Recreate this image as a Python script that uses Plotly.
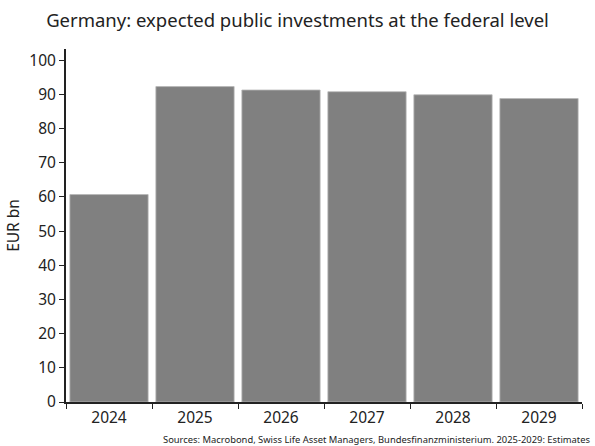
import plotly.graph_objects as go

years = ["2024", "2025", "2026", "2027", "2028", "2029"]
investments = [60.7, 92.3, 91.3, 90.8, 89.9, 88.8]
y_ticks = [0, 10, 20, 30, 40, 50, 60, 70, 80, 90, 100]

FONT = "Noto Sans"

fig = go.Figure(
    go.Bar(
        x=years,
        y=investments,
        marker=dict(color="#808080", line=dict(color="#b8b8b8", width=0.8)),
    )
)

fig.update_layout(
    width=595,
    height=446,
    margin=dict(l=66, r=13, t=49, b=44),
    paper_bgcolor="white",
    plot_bgcolor="white",
    bargap=0.09,
    showlegend=False,
    font=dict(family=FONT, color="#222222", size=15),
    title=dict(
        text="Germany: expected public investments at the federal level",
        x=0.5,
        xanchor="center",
        y=0.955,
        yanchor="middle",
        font=dict(family=FONT, size=18.5, color="#222222"),
    ),
    annotations=[
        dict(
            text="Sources: Macrobond, Swiss Life Asset Managers, Bundesfinanzministerium. 2025-2029: Estimates",
            xref="paper",
            yref="paper",
            x=1.022,
            y=-0.107,
            xanchor="right",
            yanchor="middle",
            showarrow=False,
            font=dict(family=FONT, size=9.4, color="#222222"),
        )
    ],
)

fig.update_xaxes(
    showline=True,
    linecolor="#222222",
    linewidth=2,
    ticks="outside",
    tickson="boundaries",
    ticklen=5,
    tickcolor="#222222",
    tickfont=dict(size=15.5),
    showgrid=False,
    automargin=False,
)
fig.update_yaxes(
    range=[0, 103.3],
    tickvals=y_ticks,
    showline=True,
    linecolor="#222222",
    linewidth=2,
    ticks="outside",
    ticklen=5,
    tickcolor="#222222",
    tickfont=dict(size=15.5),
    showgrid=False,
    zeroline=False,
    automargin=False,
    title=dict(text="EUR bn", font=dict(size=15.5), standoff=6),
)

fig.write_html("out.html")
